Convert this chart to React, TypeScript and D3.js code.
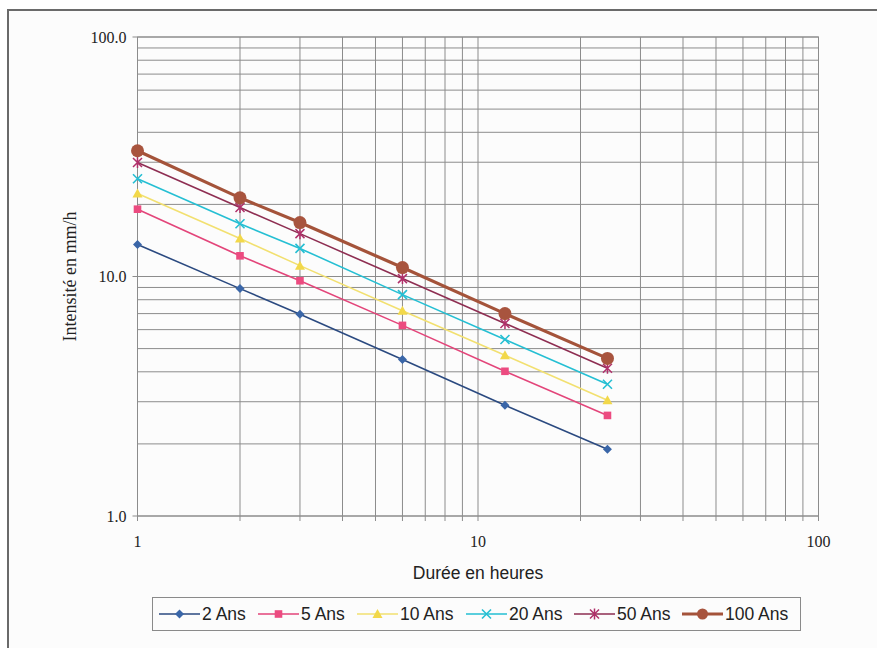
import React from "react";
import * as d3 from "d3";

const durations = [1, 2, 3, 6, 12, 24];
const seriesNames = ["2 Ans", "5 Ans", "10 Ans", "20 Ans", "50 Ans", "100 Ans"];
const s2 = [13.6, 8.9, 6.95, 4.5, 2.9, 1.9];
const s5 = [19.1, 12.2, 9.6, 6.25, 4.02, 2.63];
const s10 = [22.2, 14.4, 11.1, 7.2, 4.69, 3.04];
const s20 = [25.6, 16.6, 13.1, 8.4, 5.46, 3.55];
const s50 = [29.9, 19.4, 15.1, 9.8, 6.37, 4.14];
const s100 = [33.5, 21.3, 16.8, 10.9, 7.0, 4.55];
const seriesValues = [s2, s5, s10, s20, s50, s100];
const lineColors = ["#2b4a80", "#e3457a", "#f2e070", "#25bfd3", "#8e2e52", "#a4533a"];
const markerColors = ["#3a66a8", "#ec4b80", "#f2d84a", "#25bfd3", "#b0306a", "#a8543e"];
const markerKinds = ["diamond", "square", "triangle", "x", "star", "circle"];
const yTicks = [1, 10, 100];
const xTicks = [1, 10, 100];
const gridValues = [1, 2, 3, 4, 5, 6, 7, 8, 9, 10, 20, 30, 40, 50, 60, 70, 80, 90, 100];
const legendX = [159, 258, 357, 466, 574, 682];

const W = 877;
const H = 648;
const L = 137.5, R = 818.5, T = 37, B = 516;

function Marker({ kind, x, y, color, legend }: any) {
  switch (kind) {
    case "diamond": {
      const s = 4.5;
      return <path d={`M${x},${y - s}L${x + s},${y}L${x},${y + s}L${x - s},${y}Z`} fill={color} />;
    }
    case "square": {
      const s = 3.8;
      return <rect x={x - s} y={y - s} width={2 * s} height={2 * s} fill={color} />;
    }
    case "triangle": {
      const s = 5;
      return <path d={`M${x},${y - s}L${x + s},${y + s * 0.8}L${x - s},${y + s * 0.8}Z`} fill={color} />;
    }
    case "x": {
      const s = 4.5;
      return (
        <path d={`M${x - s},${y - s}L${x + s},${y + s}M${x - s},${y + s}L${x + s},${y - s}`} stroke={color} strokeWidth={1.6} fill="none" />
      );
    }
    case "star": {
      const s = 4.5;
      return (
        <path
          d={`M${x - s},${y - s}L${x + s},${y + s}M${x - s},${y + s}L${x + s},${y - s}M${x},${y - s - 1}L${x},${y + s + 1}`}
          stroke={color}
          strokeWidth={1.5}
          fill="none"
        />
      );
    }
    default:
      return <circle cx={x} cy={y} r={legend ? 5.5 : 6.5} fill={color} />;
  }
}

export default function App() {
  const x = d3.scaleLog().domain([1, 100]).range([L, R]);
  const y = d3.scaleLog().domain([1, 100]).range([B, T]);
  const line = d3
    .line<[number, number]>()
    .x((d) => x(d[0]))
    .y((d) => y(d[1]));

  return (
    <div style={{ position: "absolute", left: 0, top: 0, width: W, height: H }}>
      <svg width={W} height={H} style={{ display: "block" }}>
        <rect x={0} y={0} width={W} height={H} fill="#ffffff" />
        <rect x={8} y={10} width={W + 20} height={H + 20} fill="#fcfcfc" stroke="#6a6a6a" strokeWidth={2} />
        {/* grid */}
        {gridValues.map((v) => (
          <line key={"v" + v} x1={x(v)} x2={x(v)} y1={T} y2={B + 5} stroke="#8c8c8c" strokeWidth={1} />
        ))}
        {gridValues.map((v) => (
          <line key={"h" + v} x1={L} x2={R} y1={y(v)} y2={y(v)} stroke="#8c8c8c" strokeWidth={1} />
        ))}
        <rect x={L} y={T} width={R - L} height={B - T} fill="none" stroke="#8c8c8c" strokeWidth={1} />
        {yTicks.map((v) => (
          <g key={"yt" + v}>
            <line x1={L - 5} x2={L} y1={y(v)} y2={y(v)} stroke="#8c8c8c" />
            <text
              x={L - 11}
              y={y(v)}
              dy="0.35em"
              textAnchor="end"
              fontFamily="'Liberation Serif', 'Times New Roman', serif"
              fontSize={16}
              fill="#222"
            >
              {d3.format(".1f")(v)}
            </text>
          </g>
        ))}
        {xTicks.map((v) => (
          <text
            key={"xt" + v}
            x={x(v)}
            y={547}
            textAnchor="middle"
            fontFamily="'Liberation Serif', 'Times New Roman', serif"
            fontSize={16}
            fill="#222"
          >
            {d3.format("d")(v)}
          </text>
        ))}
        <text
          transform={`translate(76,${(T + B) / 2}) rotate(-90)`}
          textAnchor="middle"
          fontFamily="'Liberation Serif', 'Times New Roman', serif"
          fontSize={18}
          fill="#222"
        >
          Intensité en mm/h
        </text>
        <text
          x={(L + R) / 2}
          y={579}
          textAnchor="middle"
          fontFamily="'Liberation Sans', Arial, sans-serif"
          fontSize={17.5}
          fill="#222"
        >
          Durée en heures
        </text>
        {/* series */}
        {seriesValues.map((vals, i) => {
          const pts: [number, number][] = durations.map((d, j) => [d, vals[j]]);
          return (
            <g key={"s" + i}>
              <path d={line(pts) || ""} fill="none" stroke={lineColors[i]} strokeWidth={i === 5 ? 3.2 : 1.6} />
              {pts.map((p, j) => (
                <Marker key={j} kind={markerKinds[i]} x={x(p[0])} y={y(p[1])} color={markerColors[i]} />
              ))}
            </g>
          );
        })}
        {/* legend */}
        <rect x={152.5} y={597.5} width={648} height={33} fill="#fcfcfc" stroke="#8a8a8a" strokeWidth={1} />
        {seriesNames.map((name, i) => {
          const lx = legendX[i];
          const ly = 614;
          return (
            <g key={"lg" + i}>
              <line x1={lx} x2={lx + 41} y1={ly} y2={ly} stroke={lineColors[i]} strokeWidth={i === 5 ? 3.2 : 1.6} />
              <Marker kind={markerKinds[i]} x={lx + 20.5} y={ly} color={markerColors[i]} legend />
              <text
                x={lx + 43}
                y={ly}
                dy="0.35em"
                fontFamily="'Liberation Sans', Arial, sans-serif"
                fontSize={17.5}
                fill="#222"
              >
                {name}
              </text>
            </g>
          );
        })}
      </svg>
    </div>
  );
}
